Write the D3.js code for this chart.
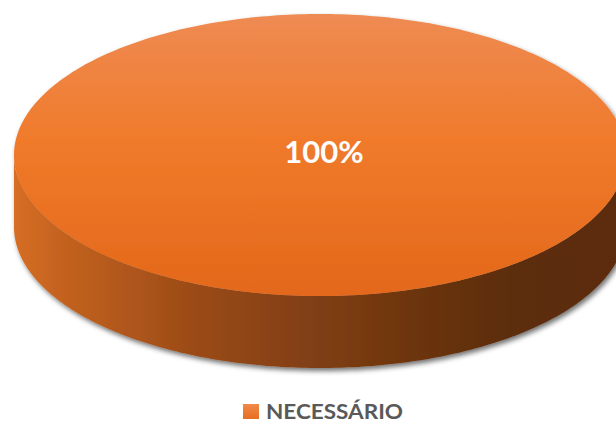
<!DOCTYPE html>
<html>
<head>
<meta charset="utf-8">
<script src="https://cdn.jsdelivr.net/npm/d3@7/dist/d3.min.js"></script>
<style>
  html, body { margin: 0; padding: 0; background: #ffffff; }
  svg { display: block; }
</style>
</head>
<body>
<svg id="chart" width="616" height="424"></svg>
<script>
// ---- data ----
const categories = ["NECESSÁRIO"];
const values = [100];
const sliceColors = ["#F07A2C"];

// ---- layout ----
const W = 616, H = 424;
const cx = 320, cy = 155, rx = 306, ry = 141, depth = 72;

const svg = d3.select("#chart");
const defs = svg.append("defs");

// top face gradient (vertical)
const gTop = defs.append("linearGradient").attr("id", "gTop")
  .attr("x1", 0).attr("y1", 0).attr("x2", 0).attr("y2", 1);
[["0%", "#EE8B53"], ["45%", "#F07A2B"], ["100%", "#E3681A"]]
  .forEach(([o, c]) => gTop.append("stop").attr("offset", o).attr("stop-color", c));

// side gradient (horizontal)
const gSide = defs.append("linearGradient").attr("id", "gSide")
  .attr("gradientUnits", "userSpaceOnUse")
  .attr("x1", cx - rx).attr("y1", 0).attr("x2", cx + rx).attr("y2", 0);
[["0%", "#D66E25"], ["8%", "#C3621F"], ["30%", "#9A4A17"], ["50%", "#7F3E12"],
 ["70%", "#673210"], ["82%", "#5C2D0C"], ["100%", "#5B2C0B"]]
  .forEach(([o, c]) => gSide.append("stop").attr("offset", o).attr("stop-color", c));

// legend swatch gradient
const gLeg = defs.append("linearGradient").attr("id", "gLeg")
  .attr("x1", 0).attr("y1", 0).attr("x2", 0).attr("y2", 1);
[["0%", "#F08A4A"], ["100%", "#E66E20"]]
  .forEach(([o, c]) => gLeg.append("stop").attr("offset", o).attr("stop-color", c));

// drop shadow
const f = defs.append("filter").attr("id", "shadow")
  .attr("x", "-10%").attr("y", "-10%").attr("width", "120%").attr("height", "130%");
f.append("feDropShadow").attr("dx", 2).attr("dy", 3).attr("stdDeviation", 2.5)
  .attr("flood-color", "#000").attr("flood-opacity", 0.55);

// ---- pie ----
const pie = d3.pie().sort(null).value(d => d);
const arcs = pie(values);
const total = d3.sum(values);

const px = a => cx + rx * Math.sin(a);
const py = a => cy - ry * Math.cos(a);
const line = d3.line().x(d => d[0]).y(d => d[1]);

function samples(a0, a1, n) {
  return d3.range(n + 1).map(i => a0 + (a1 - a0) * i / n);
}

const g = svg.append("g").attr("filter", "url(#shadow)");

arcs.forEach((d, i) => {
  const full = (d.endAngle - d.startAngle) >= 2 * Math.PI - 1e-9;
  const s0 = Math.max(d.startAngle, Math.PI / 2);
  const s1 = Math.min(d.endAngle, 3 * Math.PI / 2);
  if (s1 > s0) {
    const topPts = samples(s0, s1, 200).map(a => [px(a), py(a)]);
    const botPts = topPts.slice().reverse().map(p => [p[0], p[1] + depth]);
    g.append("path")
      .attr("d", line(topPts.concat(botPts)) + "Z")
      .attr("fill", "url(#gSide)");
  }
  const pts = samples(d.startAngle, d.endAngle, 360).map(a => [px(a), py(a)]);
  const dTop = full ? line(pts) + "Z" : line([[cx, cy]].concat(pts)) + "Z";
  g.append("path").attr("d", dTop).attr("fill", "url(#gTop)");
});

// label
arcs.forEach(d => {
  const mid = (d.startAngle + d.endAngle) / 2;
  const full = (d.endAngle - d.startAngle) >= 2 * Math.PI - 1e-9;
  const lx = full ? cx + 4 : cx + rx * 0.6 * Math.sin(mid);
  const ly = full ? cy + 8 : cy - ry * 0.6 * Math.cos(mid);
  svg.append("text")
    .attr("x", lx).attr("y", ly)
    .attr("text-anchor", "middle")
    .attr("font-family", "Lato, 'Open Sans', sans-serif")
    .attr("font-weight", "bold")
    .attr("font-size", 31)
    .attr("fill", "#ffffff")
    .text(d3.format(".0%")(d.data / total));
});

// legend
const leg = svg.append("g").attr("transform", "translate(243,404)");
categories.forEach((c, i) => {
  leg.append("rect").attr("x", 0).attr("y", 0).attr("width", 16).attr("height", 15)
    .attr("fill", "url(#gLeg)");
  leg.append("text").attr("x", 23).attr("y", 15)
    .attr("font-family", "Lato, 'Open Sans', sans-serif")
    .attr("font-weight", "bold")
    .attr("font-size", 20)
    .attr("textLength", 137)
    .attr("lengthAdjust", "spacingAndGlyphs")
    .attr("fill", "#595959")
    .text(c);
});
</script>
</body>
</html>
